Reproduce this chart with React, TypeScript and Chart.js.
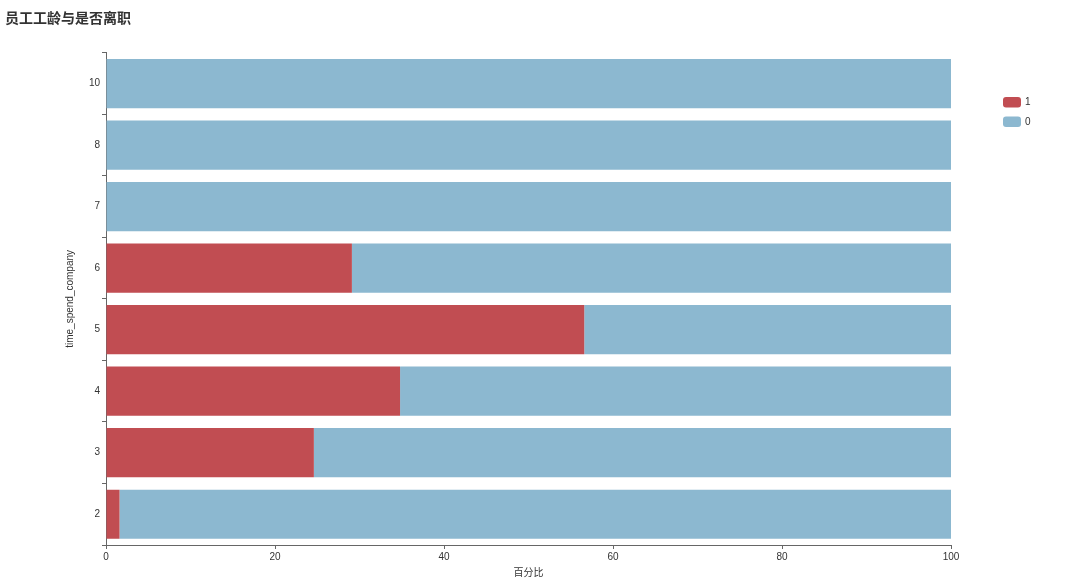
import React, { useEffect, useRef } from "react";
import { Chart, registerables } from "chart.js";

Chart.register(...registerables);

const categories = ["10", "8", "7", "6", "5", "4", "3", "2"];
const left1 = [0, 0, 0, 29.1, 56.6, 34.8, 24.6, 1.6];
const stay0 = [100, 100, 100, 70.9, 43.4, 65.2, 75.4, 98.4];
const xTicks = [0, 20, 40, 60, 80, 100];
const seriesNames = ["1", "0"];

const RED = "#c14d52";
const BLUE = "#8cb8d0";
const FONT = '"Liberation Sans", "Noto Sans CJK SC", Arial, sans-serif';
const CJK = '"Noto Sans CJK SC", "Liberation Sans", sans-serif';

const legendPlugin = {
  id: "customLegend",
  afterDraw(chart: any) {
    const ctx = chart.ctx;
    ctx.save();
    chart.data.datasets.forEach((ds: any, i: number) => {
      const x = 1003;
      const y = 97 + i * 19.5;
      ctx.fillStyle = ds.backgroundColor;
      ctx.beginPath();
      (ctx as any).roundRect(x, y, 18, 10.5, 3);
      ctx.fill();
      ctx.fillStyle = "#333";
      ctx.font = `10px ${FONT}`;
      ctx.textBaseline = "middle";
      ctx.textAlign = "left";
      ctx.fillText(ds.label, x + 22, y + 5.5);
    });
    ctx.restore();
  },
};

export default function App() {
  const ref = useRef<HTMLCanvasElement>(null);
  useEffect(() => {
    document.body.style.margin = "0";
    const chart = new Chart(ref.current!, {
      type: "bar",
      data: {
        labels: categories,
        datasets: [
          { label: seriesNames[0], data: left1, backgroundColor: RED },
          { label: seriesNames[1], data: stay0, backgroundColor: BLUE },
        ],
      },
      plugins: [legendPlugin],
      options: {
        indexAxis: "y",
        animation: false,
        responsive: false,
        datasets: { bar: { categoryPercentage: 0.8, barPercentage: 1.0 } },
        layout: { padding: { left: 5, right: 129, top: 0, bottom: 0 } },
        plugins: {
          legend: { display: false },
          tooltip: { enabled: false },
          title: {
            display: true,
            text: "员工工龄与是否离职",
            align: "start",
            color: "#333",
            font: { family: CJK, size: 14, weight: "bold" },
            padding: { top: 9, bottom: 27 },
          },
        },
        scales: {
          x: {
            stacked: true,
            min: 0,
            max: 100,
            afterBuildTicks: (s: any) => {
              s.ticks = xTicks.map((v) => ({ value: v }));
            },
            afterFit: (s: any) => {
              s.height = 35;
            },
            border: { display: true, color: "#666", width: 1 },
            grid: { drawOnChartArea: false, drawTicks: true, tickLength: 4, color: "#666" },
            ticks: { color: "#333", font: { family: FONT, size: 10 }, padding: 2, maxRotation: 0 },
            title: {
              display: true,
              text: "百分比",
              color: "#333",
              font: { family: CJK, size: 10 },
              padding: { top: 0, bottom: 2 },
            },
          },
          y: {
            stacked: true,
            afterFit: (s: any) => {
              s.width = 101;
            },
            border: { display: true, color: "#666", width: 1 },
            grid: { drawOnChartArea: false, drawTicks: true, tickLength: 4, color: "#666", offset: true },
            ticks: { color: "#333", font: { family: FONT, size: 10 }, padding: 2 },
            title: {
              display: true,
              text: "time_spend_company",
              color: "#333",
              font: { family: FONT, size: 10 },
              padding: { top: 59, bottom: 0 },
            },
          },
        },
      } as any,
    });
    return () => chart.destroy();
  }, []);
  return (
    <div style={{ width: 1080, height: 580 }}>
      <canvas ref={ref} width={1080} height={580} />
    </div>
  );
}
